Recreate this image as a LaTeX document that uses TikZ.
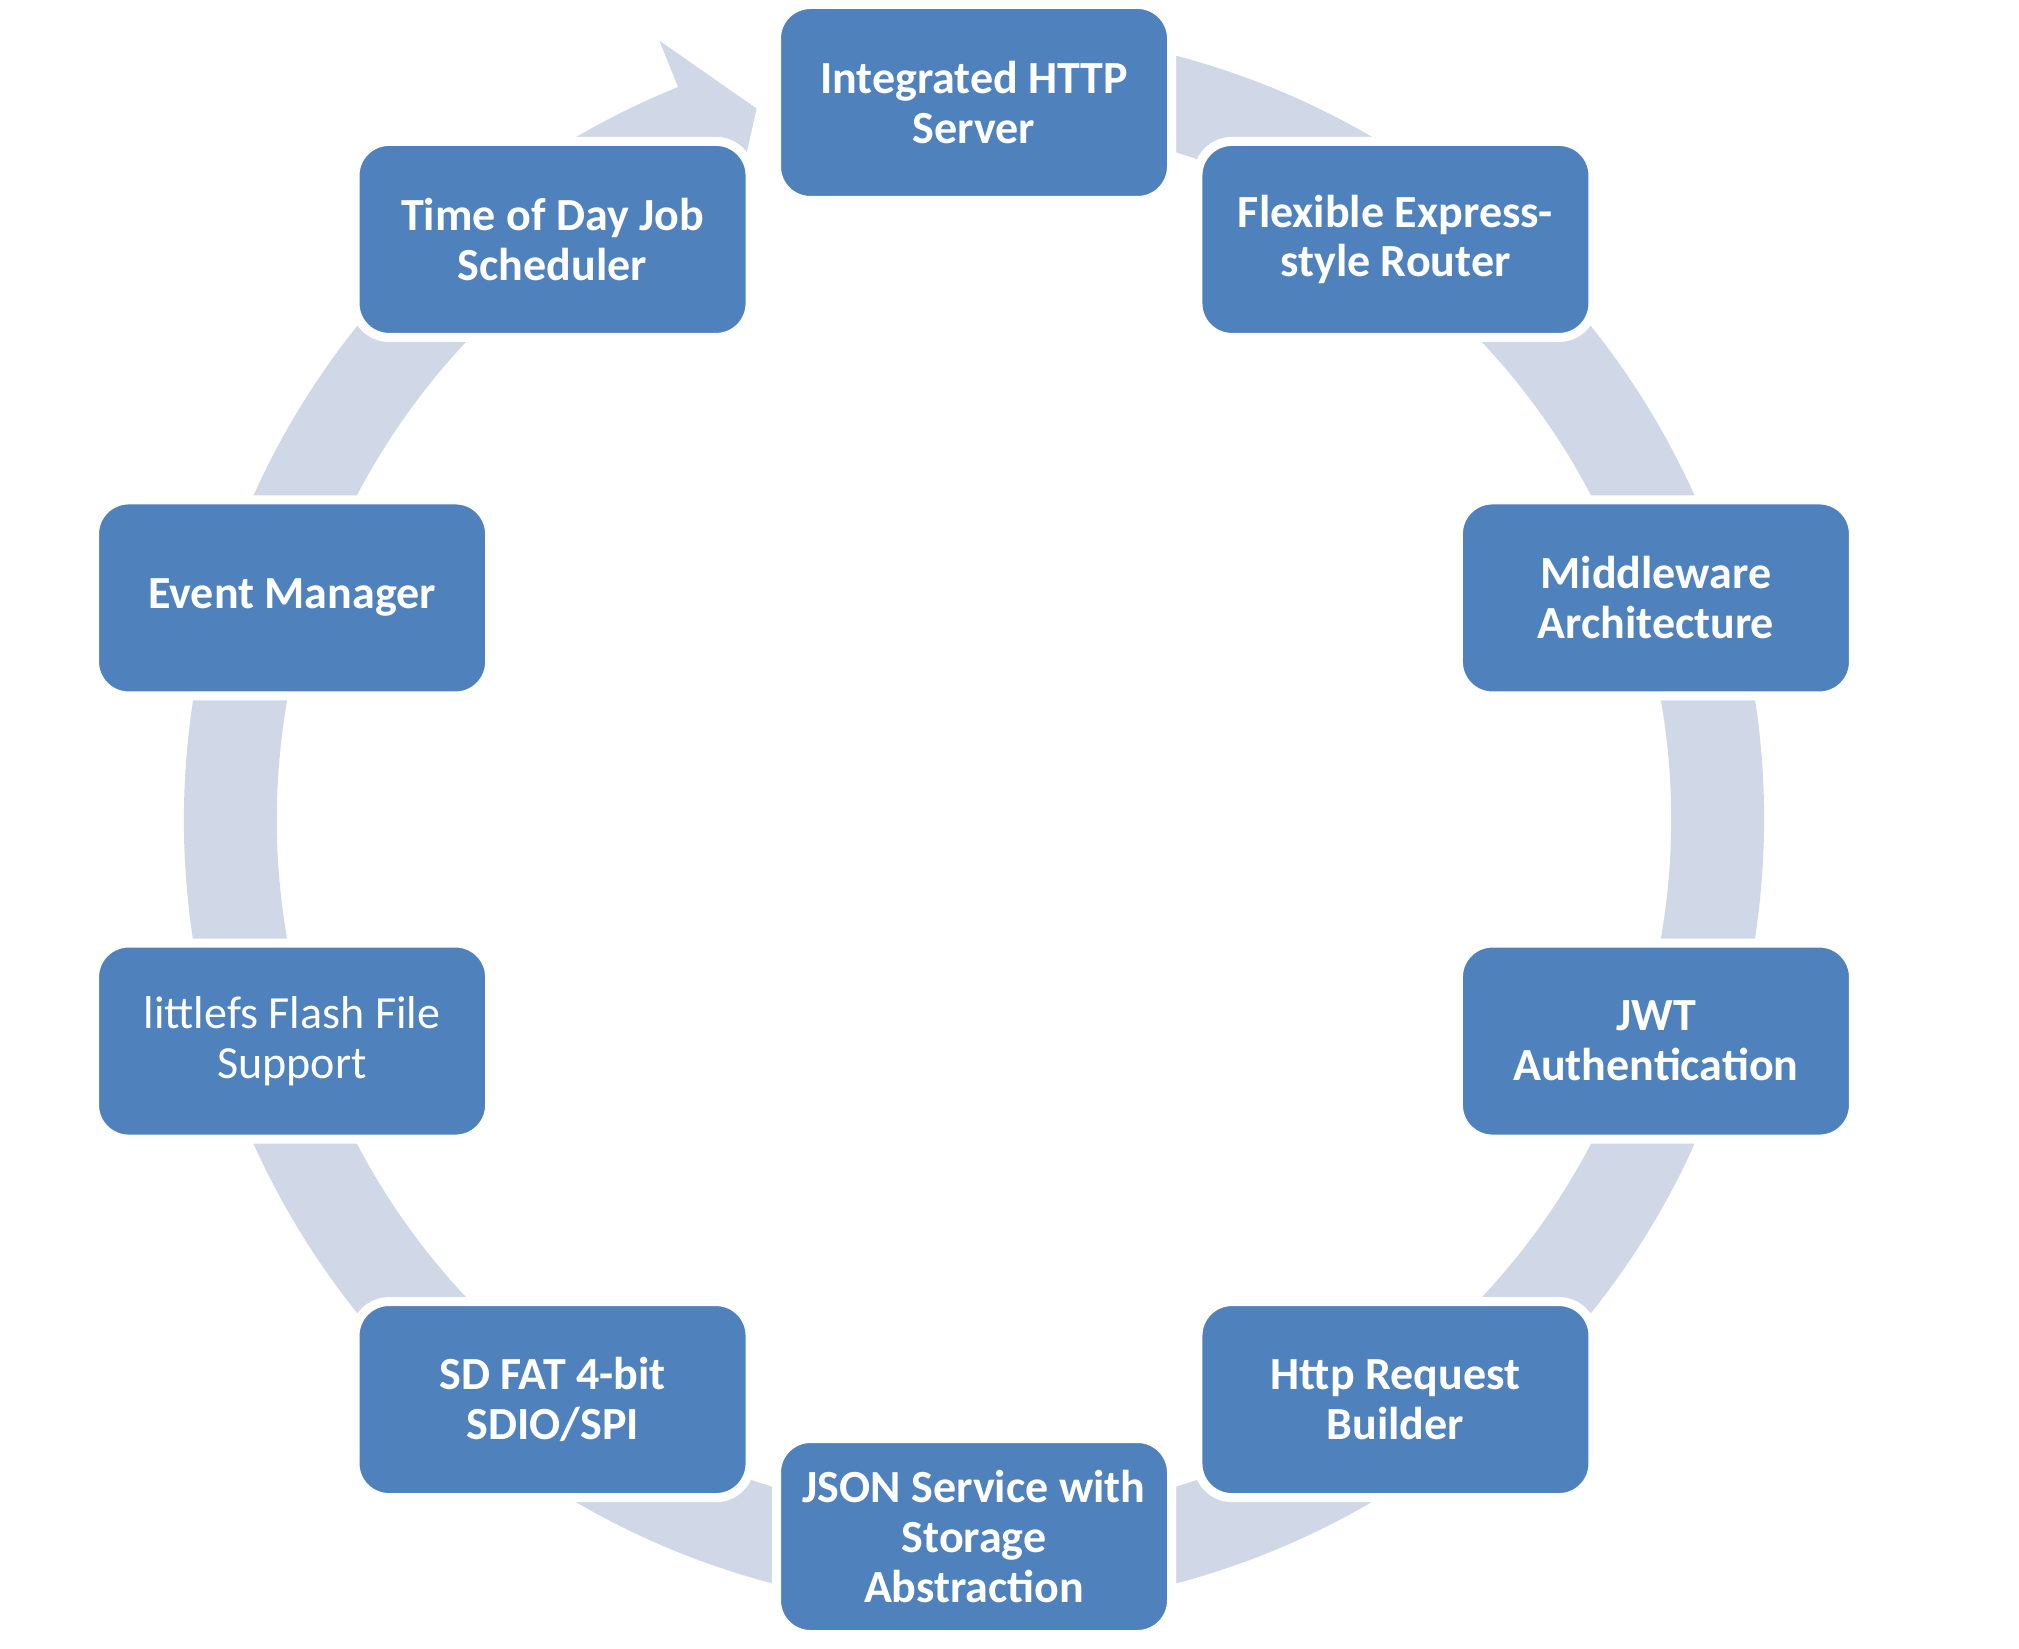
\documentclass[tikz,border=0pt]{standalone}
\usepackage{fontspec}
\setmainfont{Carlito}
\usepackage{xcolor}
\usepackage{tikz}
\definecolor{boxblue}{HTML}{4F81BD}
\definecolor{ringblue}{HTML}{D0D8E8}

\begin{document}
\begin{tikzpicture}[
    cycle-box/.style={rectangle, rounded corners=0.34cm, fill=boxblue, draw=white,
      line width=0.09cm, minimum width=3.95cm, minimum height=1.96cm,
      inner sep=0pt, align=center, text=white,
      font=\fontsize{13.1}{14.2}\selectfont\bfseries},
    cycle-plain/.style={cycle-box, font=\fontsize{13.1}{14.2}\selectfont}
  ]
\useasboundingbox (-9.74,-8.285) rectangle (10.45,8.195);

\fill[ringblue] (112:8.40) -- (107:7.435) -- (112:6.47) -- (112:6.97)
    arc[start angle=112, end angle=442, radius=6.97] -- (442:7.90)
    arc[start angle=442, end angle=112, radius=7.90] -- cycle;

\node (box-http) [cycle-box] at (90:7.17) {Integrated HTTP\\Server};
\node (box-router) [cycle-box] at (54:7.17) {Flexible Express-\\style Router};
\node (box-middleware) [cycle-box] at (18:7.17) {Middleware\\Architecture};
\node (box-jwt) [cycle-box] at (-18:7.17) {JWT\\Authentication};
\node (box-builder) [cycle-box] at (-54:7.17) {Http Request\\Builder};
\node (box-json) [cycle-box] at (-90:7.17) {JSON Service with\\Storage\\Abstraction};
\node (box-sdfat) [cycle-box] at (-126:7.17) {SD FAT 4-bit\\SDIO/SPI};
\node (box-littlefs) [cycle-plain] at (-162:7.17) {littlefs Flash File\\Support};
\node (box-events) [cycle-box] at (162:7.17) {Event Manager};
\node (box-scheduler) [cycle-box] at (126:7.17) {Time of Day Job\\Scheduler};
\end{tikzpicture}
\end{document}
